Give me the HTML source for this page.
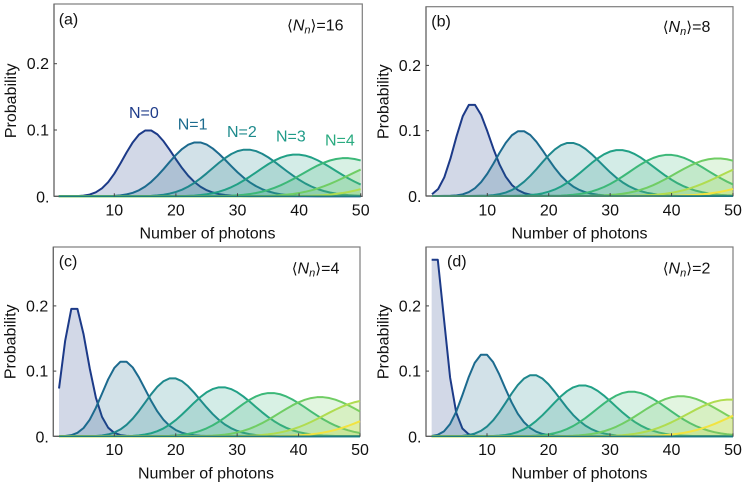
<!DOCTYPE html>
<html lang="en">
<head>
<meta charset="utf-8">
<title>Photon number probability distributions</title>
<style>
html,body{margin:0;padding:0;background:#fff;}
svg{display:block;}
text{font-family:"Liberation Sans","DejaVu Sans",sans-serif;font-size:16px;fill:#111;}
.ang{font-family:"DejaVu Sans","Liberation Sans",sans-serif;font-size:15px;}
.it{font-style:italic;}
</style>
</head>
<body>
<svg id="chart" xmlns="http://www.w3.org/2000/svg" width="744" height="486" viewBox="0 0 744 486">
  <rect x="0" y="0" width="744" height="486" fill="#fff"/>
  <g id="panel-a"></g>
  <g id="panel-b"></g>
  <g id="panel-c"></g>
  <g id="panel-d"></g>

  <text x="207.5" y="238.5" text-anchor="middle">Number of photons</text>
  <text x="579.5" y="238.5" text-anchor="middle">Number of photons</text>
  <text x="206" y="478.5" text-anchor="middle">Number of photons</text>
  <text x="579.5" y="478.5" text-anchor="middle">Number of photons</text>

  <text transform="translate(16,100.8) rotate(-90)" text-anchor="middle">Probability</text>
  <text transform="translate(388.5,101.7) rotate(-90)" text-anchor="middle">Probability</text>
  <text transform="translate(15.7,341.8) rotate(-90)" text-anchor="middle">Probability</text>
  <text transform="translate(388.5,341.8) rotate(-90)" text-anchor="middle">Probability</text>

  <text x="58.7" y="24.5">(a)</text>
  <text x="431.3" y="26.5">(b)</text>
  <text x="58.7" y="266.5">(c)</text>
  <text x="447" y="266.5">(d)</text>

  <text x="287" y="30.5"><tspan class="ang">⟨</tspan><tspan class="it">N</tspan><tspan class="it" style="font-size:11px" dy="3">n</tspan><tspan class="ang" dy="-3">⟩</tspan>=16</text>
  <text x="662.7" y="32"><tspan class="ang">⟨</tspan><tspan class="it">N</tspan><tspan class="it" style="font-size:11px" dy="3">n</tspan><tspan class="ang" dy="-3">⟩</tspan>=8</text>
  <text x="291.7" y="273.5"><tspan class="ang">⟨</tspan><tspan class="it">N</tspan><tspan class="it" style="font-size:11px" dy="3">n</tspan><tspan class="ang" dy="-3">⟩</tspan>=4</text>
  <text x="662.7" y="273.5"><tspan class="ang">⟨</tspan><tspan class="it">N</tspan><tspan class="it" style="font-size:11px" dy="3">n</tspan><tspan class="ang" dy="-3">⟩</tspan>=2</text>

  <text x="129" y="118" style="fill:#1f3c8a">N=0</text>
  <text x="177.7" y="129.5" style="fill:#1c6b8e">N=1</text>
  <text x="227" y="137" style="fill:#1d8a8c">N=2</text>
  <text x="276" y="141.5" style="fill:#1f9b88">N=3</text>
  <text x="325" y="145.5" style="fill:#2aab80">N=4</text>
</svg>
<script>
const photonCounts = [1,2,3,4,5,6,7,8,9,10, 11,12,13,14,15,16,17,18,19,20, 21,22,23,24,25,26,27,28,29,30, 31,32,33,34,35,36,37,38,39,40, 41,42,43,44,45,46,47,48,49,50];

const xTickValues = [10,20,30,40,50];
const yTickValues = [0.1,0.2];
const yTickLabels = ["0.1","0.2"];
const yZeroLabel = "0.";

const probA0 = [0,0,.0001,.0003,.0010,.0026,.0060,.0120,.0213,.0341, .0496,.0662,.0814,.0930,.0992,.0992,.0934,.0830,.0699,.0559, .0426,.0310,.0216,.0144,.0092,.0057,.0034,.0019,.0011,.0006, .0003,.0001,0,0,0,0,0,0,0,0, 0,0,0,0,0,0,0,0,0,0];
const probA1 = [0,0,0,0,0,0,0,.0001,.0003,.0006, .0014,.0029,.0053,.0091,.0146,.0219,.0309,.0411,.0520,.0624, .0713,.0778,.0812,.0812,.0780,.0720,.0640,.0549,.0454,.0363, .0281,.0211,.0153,.0108,.0074,.0049,.0032,.0020,.0012,.0007, .0004,.0002,.0001,0,0,0,0,0,0,0];
const probA2 = [0,0,0,0,0,0,0,0,0,0, 0,0,.0001,.0002,.0004,.0007,.0014,.0024,.0041,.0066, .0100,.0146,.0203,.0271,.0347,.0427,.0506,.0578,.0638,.0681, .0703,.0703,.0682,.0642,.0587,.0522,.0451,.0380,.0312,.0249, .0194,.0148,.0110,.0080,.0057,.0040,.0027,.0018,.0012,.0008];
const probA3 = [0,0,0,0,0,0,0,0,0,0, 0,0,0,0,0,0,0,0,.0001,.0002, .0003,.0006,.0011,.0019,.0031,.0047,.0070,.0100,.0138,.0184, .0238,.0297,.0360,.0424,.0485,.0539,.0582,.0613,.0629,.0629, .0614,.0585,.0544,.0495,.0440,.0382,.0325,.0271,.0221,.0177];
const probA4 = [0,0,0,0,0,0,0,0,0,0, 0,0,0,0,0,0,0,0,0,0, 0,0,0,0,.0001,.0002,.0003,.0006,.0009,.0015, .0023,.0034,.0050,.0070,.0096,.0128,.0166,.0210,.0258,.0310, .0363,.0415,.0464,.0506,.0540,.0563,.0575,.0575,.0563,.0541];
const probA5 = [0,0,0,0,0,0,0,0,0,0, 0,0,0,0,0,0,0,0,0,0, 0,0,0,0,0,0,0,0,0,0, .0001,.0002,.0003,.0005,.0007,.0011,.0017,.0025,.0035,.0049, .0068,.0090,.0118,.0150,.0186,.0227,.0270,.0315,.0360,.0403];
const probA6 = [0,0,0,0,0,0,0,0,0,0, 0,0,0,0,0,0,0,0,0,0, 0,0,0,0,0,0,0,0,0,0, 0,0,0,0,0,0,0,.0001,.0002,.0004, .0006,.0009,.0013,.0018,.0026,.0036,.0049,.0065,.0085,.0108];

const probB0 = [.0027,.0107,.0286,.0573,.0916,.1221,.1396,.1396,.1241,.0993, .0722,.0481,.0296,.0169,.0090,.0045,.0021,.0009,.0004,.0002, 0,0,0,0,0,0,0,0,0,0, 0,0,0,0,0,0,0,0,0,0, 0,0,0,0,0,0,0,0,0,0];
const probB1 = [0,0,.0001,.0003,.0010,.0026,.0060,.0120,.0213,.0341, .0496,.0662,.0814,.0930,.0992,.0992,.0934,.0830,.0699,.0559, .0426,.0310,.0216,.0144,.0092,.0057,.0034,.0019,.0011,.0006, .0003,.0001,0,0,0,0,0,0,0,0, 0,0,0,0,0,0,0,0,0,0];
const probB2 = [0,0,0,0,0,0,0,.0001,.0003,.0006, .0014,.0029,.0053,.0091,.0146,.0219,.0309,.0411,.0520,.0624, .0713,.0778,.0812,.0812,.0780,.0720,.0640,.0549,.0454,.0363, .0281,.0211,.0153,.0108,.0074,.0049,.0032,.0020,.0012,.0007, .0004,.0002,.0001,0,0,0,0,0,0,0];
const probB3 = [0,0,0,0,0,0,0,0,0,0, 0,0,.0001,.0002,.0004,.0007,.0014,.0024,.0041,.0066, .0100,.0146,.0203,.0271,.0347,.0427,.0506,.0578,.0638,.0681, .0703,.0703,.0682,.0642,.0587,.0522,.0451,.0380,.0312,.0249, .0194,.0148,.0110,.0080,.0057,.0040,.0027,.0018,.0012,.0008];
const probB4 = [0,0,0,0,0,0,0,0,0,0, 0,0,0,0,0,0,0,0,.0001,.0002, .0003,.0006,.0011,.0019,.0031,.0047,.0070,.0100,.0138,.0184, .0238,.0297,.0360,.0424,.0485,.0539,.0582,.0613,.0629,.0629, .0614,.0585,.0544,.0495,.0440,.0382,.0325,.0271,.0221,.0177];
const probB5 = [0,0,0,0,0,0,0,0,0,0, 0,0,0,0,0,0,0,0,0,0, 0,0,0,0,.0001,.0002,.0003,.0006,.0009,.0015, .0023,.0034,.0050,.0070,.0096,.0128,.0166,.0210,.0258,.0310, .0363,.0415,.0464,.0506,.0540,.0563,.0575,.0575,.0563,.0541];
const probB6 = [0,0,0,0,0,0,0,0,0,0, 0,0,0,0,0,0,0,0,0,0, 0,0,0,0,0,0,0,0,0,0, .0001,.0002,.0003,.0005,.0007,.0011,.0017,.0025,.0035,.0049, .0068,.0090,.0118,.0150,.0186,.0227,.0270,.0315,.0360,.0403];
const probB7 = [0,0,0,0,0,0,0,0,0,0, 0,0,0,0,0,0,0,0,0,0, 0,0,0,0,0,0,0,0,0,0, 0,0,0,0,0,0,0,.0001,.0002,.0004, .0006,.0009,.0013,.0018,.0026,.0036,.0049,.0065,.0085,.0108];

const probC0 = [.0733,.1465,.1954,.1954,.1563,.1042,.0595,.0298,.0132,.0053, .0019,.0006,.0002,0,0,0,0,0,0,0, 0,0,0,0,0,0,0,0,0,0, 0,0,0,0,0,0,0,0,0,0, 0,0,0,0,0,0,0,0,0,0];
const probC1 = [.0001,.0004,.0018,.0053,.0127,.0255,.0437,.0655,.0874,.1048, .1144,.1144,.1056,.0905,.0724,.0543,.0383,.0255,.0161,.0097, .0055,.0030,.0016,.0008,.0004,.0002,0,0,0,0, 0,0,0,0,0,0,0,0,0,0, 0,0,0,0,0,0,0,0,0,0];
const probC2 = [0,0,0,0,.0001,.0002,.0005,.0013,.0029,.0058, .0106,.0176,.0271,.0387,.0516,.0646,.0760,.0844,.0888,.0888, .0846,.0769,.0669,.0557,.0446,.0343,.0254,.0181,.0125,.0083, .0054,.0034,.0020,.0012,.0007,.0004,.0002,.0001,0,0, 0,0,0,0,0,0,0,0,0,0];
const probC3 = [0,0,0,0,0,0,0,0,0,0, .0002,.0003,.0007,.0015,.0027,.0047,.0078,.0121,.0178,.0249, .0332,.0423,.0515,.0601,.0673,.0724,.0751,.0751,.0725,.0677, .0611,.0535,.0454,.0374,.0299,.0233,.0176,.0130,.0093,.0065, .0045,.0030,.0019,.0012,.0008,.0005,.0003,.0002,.0001,0];
const probC4 = [0,0,0,0,0,0,0,0,0,0, 0,0,0,0,0,.0001,.0002,.0004,.0007,.0013, .0022,.0036,.0056,.0084,.0121,.0167,.0223,.0287,.0356,.0427, .0496,.0558,.0609,.0645,.0663,.0663,.0645,.0611,.0564,.0508, .0446,.0382,.0320,.0262,.0209,.0164,.0125,.0094,.0069,.0050];
const probC5 = [0,0,0,0,0,0,0,0,0,0, 0,0,0,0,0,0,0,0,0,0, 0,.0001,.0002,.0003,.0006,.0010,.0017,.0026,.0040,.0059, .0084,.0115,.0154,.0199,.0250,.0306,.0364,.0421,.0475,.0522, .0560,.0586,.0600,.0600,.0587,.0561,.0525,.0481,.0432,.0380];
const probC6 = [0,0,0,0,0,0,0,0,0,0, 0,0,0,0,0,0,0,0,0,0, 0,0,0,0,0,0,0,.0001,.0002,.0003, .0005,.0008,.0013,.0020,.0029,.0042,.0059,.0080,.0107,.0139, .0177,.0219,.0265,.0313,.0362,.0409,.0452,.0490,.0520,.0541];
const probC7 = [0,0,0,0,0,0,0,0,0,0, 0,0,0,0,0,0,0,0,0,0, 0,0,0,0,0,0,0,0,0,0, 0,0,0,0,.0001,.0002,.0004,.0006,.0010,.0014, .0021,.0030,.0042,.0057,.0076,.0099,.0126,.0158,.0193,.0232];

const probD0 = [.2707,.2707,.1804,.0902,.0361,.0120,.0034,.0009,.0002,0, 0,0,0,0,0,0,0,0,0,0, 0,0,0,0,0,0,0,0,0,0, 0,0,0,0,0,0,0,0,0,0, 0,0,0,0,0,0,0,0,0,0];
const probD1 = [.0005,.0023,.0076,.0189,.0378,.0631,.0901,.1126,.1251,.1251, .1137,.0948,.0729,.0521,.0347,.0217,.0128,.0071,.0037,.0019, .0009,.0004,.0002,0,0,0,0,0,0,0, 0,0,0,0,0,0,0,0,0,0, 0,0,0,0,0,0,0,0,0,0];
const probD2 = [0,0,0,.0001,.0002,.0007,.0019,.0042,.0083,.0150, .0245,.0368,.0509,.0655,.0786,.0884,.0936,.0936,.0887,.0798, .0684,.0560,.0438,.0328,.0237,.0164,.0109,.0070,.0044,.0026, .0015,.0009,.0005,.0002,.0001,0,0,0,0,0, 0,0,0,0,0,0,0,0,0,0];
const probD3 = [0,0,0,0,0,0,0,0,.0001,.0002, .0005,.0010,.0020,.0038,.0066,.0107,.0163,.0236,.0322,.0418, .0518,.0612,.0692,.0750,.0780,.0780,.0751,.0697,.0625,.0542, .0454,.0369,.0291,.0222,.0165,.0119,.0084,.0057,.0038,.0025, .0016,.0010,.0006,.0003,.0002,.0001,0,0,0,0];
const probD4 = [0,0,0,0,0,0,0,0,0,0, 0,0,0,0,.0001,.0003,.0005,.0010,.0018,.0030, .0049,.0075,.0111,.0157,.0214,.0280,.0353,.0428,.0502,.0569, .0624,.0663,.0683,.0683,.0663,.0626,.0575,.0515,.0449,.0381, .0316,.0256,.0202,.0156,.0118,.0087,.0063,.0045,.0031,.0021];
const probD5 = [0,0,0,0,0,0,0,0,0,0, 0,0,0,0,0,0,0,0,0,0, .0001,.0003,.0005,.0008,.0014,.0023,.0036,.0053,.0077,.0108, .0146,.0192,.0244,.0302,.0362,.0423,.0480,.0530,.0571,.0600, .0614,.0614,.0600,.0573,.0535,.0488,.0436,.0382,.0327,.0275];
const probD6 = [0,0,0,0,0,0,0,0,0,0, 0,0,0,0,0,0,0,0,0,0, 0,0,0,0,0,0,.0001,.0002,.0004,.0007, .0011,.0017,.0026,.0038,.0054,.0075,.0102,.0134,.0172,.0215, .0262,.0312,.0362,.0412,.0458,.0498,.0530,.0552,.0563,.0563];
const probD7 = [0,0,0,0,0,0,0,0,0,0, 0,0,0,0,0,0,0,0,0,0, 0,0,0,0,0,0,0,0,0,0, 0,0,.0001,.0002,.0003,.0005,.0008,.0013,.0019,.0027, .0039,.0053,.0072,.0095,.0122,.0154,.0190,.0230,.0272,.0316];

const seriesColors = ["#1c3a88","#1c6a8e","#1e878c","#21a086","#3cb878","#70cd64","#b0dc50","#f2e340"];

const panelA = [probA0,probA1,probA2,probA3,probA4,probA5,probA6];
const panelB = [probB0,probB1,probB2,probB3,probB4,probB5,probB6,probB7];
const panelC = [probC0,probC1,probC2,probC3,probC4,probC5,probC6,probC7];
const panelD = [probD0,probD1,probD2,probD3,probD4,probD5,probD6,probD7];

const SVGNS = "http://www.w3.org/2000/svg";

function drawPanel(id, series, g) {
  const root = document.getElementById("panel-" + id);
  const xScale = function (v) { return g.x10 + (v - 10) * (g.x50 - g.x10) / 40; };
  const yScale = function (v) { return g.y0 - v * 1000 * g.perMille; };

  const bg = document.createElementNS(SVGNS, "rect");
  
  
  bg.setAttribute("x", g.left);
  bg.setAttribute("y", g.top);
  bg.setAttribute("width", g.right - g.left);
  bg.setAttribute("height", g.y0 - g.top);
  bg.setAttribute("fill", "#fff");
  bg.setAttribute("stroke", "#7d7d7d");
  bg.setAttribute("stroke-width", "1.2");
  root.appendChild(bg);

  series.forEach(function (values, si) {
    const color = seriesColors[si];
    let line = "";
    values.forEach(function (v, i) {
      line += (i ? "L" : "M") + xScale(photonCounts[i]).toFixed(2) + " " + yScale(v).toFixed(2);
    });
    const lastIdx = values.length - 1;
    const area = line + "L" + xScale(photonCounts[lastIdx]).toFixed(2) + " " + g.y0 + "L" + xScale(photonCounts[0]).toFixed(2) + " " + g.y0 + "Z";

    const fill = document.createElementNS(SVGNS, "path");
    
    
    fill.setAttribute("d", area);
    fill.setAttribute("fill", color);
    fill.setAttribute("fill-opacity", "0.2");
    root.appendChild(fill);

    const stroke = document.createElementNS(SVGNS, "path");
    
    
    stroke.setAttribute("d", line);
    stroke.setAttribute("fill", "none");
    stroke.setAttribute("stroke", color);
    stroke.setAttribute("stroke-width", "2");
    stroke.setAttribute("stroke-linejoin", "round");
    root.appendChild(stroke);
  });

  const leftAxis = document.createElementNS(SVGNS, "line");
  
  
  leftAxis.setAttribute("x1", g.left);
  leftAxis.setAttribute("x2", g.left);
  leftAxis.setAttribute("y1", g.top);
  leftAxis.setAttribute("y2", g.y0);
  leftAxis.setAttribute("stroke", "#666");
  leftAxis.setAttribute("stroke-width", "1.2");
  root.appendChild(leftAxis);

  const bottomAxis = document.createElementNS(SVGNS, "line");
  
  
  bottomAxis.setAttribute("x1", g.left);
  bottomAxis.setAttribute("x2", g.right);
  bottomAxis.setAttribute("y1", g.y0);
  bottomAxis.setAttribute("y2", g.y0);
  bottomAxis.setAttribute("stroke", "#555");
  bottomAxis.setAttribute("stroke-width", "1.2");
  root.appendChild(bottomAxis);

  const floor = document.createElementNS(SVGNS, "line");
  
  
  floor.setAttribute("x1", xScale(photonCounts[0]));
  floor.setAttribute("x2", xScale(photonCounts[photonCounts.length - 1]));
  floor.setAttribute("y1", g.y0);
  floor.setAttribute("y2", g.y0);
  floor.setAttribute("stroke", "#1c7b80");
  floor.setAttribute("stroke-width", "1.5");
  root.appendChild(floor);

  xTickValues.forEach(function (v) {
    const tick = document.createElementNS(SVGNS, "line");
    
    
    tick.setAttribute("x1", xScale(v));
    tick.setAttribute("x2", xScale(v));
    tick.setAttribute("y1", g.y0);
    tick.setAttribute("y2", g.y0 - 3);
    tick.setAttribute("stroke", "#444");
    tick.setAttribute("stroke-width", "1");
    root.appendChild(tick);

    const label = document.createElementNS(SVGNS, "text");
    
    
    label.setAttribute("x", xScale(v));
    label.setAttribute("y", g.xLabelY);
    label.setAttribute("text-anchor", "middle");
    label.textContent = String(v);
    root.appendChild(label);
  });

  yTickValues.forEach(function (v, i) {
    const tick = document.createElementNS(SVGNS, "line");
    
    
    tick.setAttribute("x1", g.left);
    tick.setAttribute("x2", g.left + 3);
    tick.setAttribute("y1", yScale(v));
    tick.setAttribute("y2", yScale(v));
    tick.setAttribute("stroke", "#444");
    tick.setAttribute("stroke-width", "1");
    root.appendChild(tick);

    const label = document.createElementNS(SVGNS, "text");
    
    
    label.setAttribute("x", g.left - 5);
    label.setAttribute("y", yScale(v) + 5.5);
    label.setAttribute("text-anchor", "end");
    label.textContent = yTickLabels[i];
    root.appendChild(label);
  });

  const zero = document.createElementNS(SVGNS, "text");
  
  
  zero.setAttribute("x", g.left - 4.5);
  zero.setAttribute("y", g.y0 + 6);
  zero.setAttribute("text-anchor", "end");
  zero.textContent = yZeroLabel;
  root.appendChild(zero);
}

drawPanel("a", panelA, {left:54,right:362.3,top:4,y0:196.3,x10:114.3,x50:360.7,perMille:0.663,xLabelY:215.5});
drawPanel("b", panelB, {left:426,right:733,top:6.7,y0:196,x10:487.3,x50:733,perMille:0.653,xLabelY:215.5});
drawPanel("c", panelC, {left:53.3,right:360,top:247,y0:436.3,x10:114.3,x50:360,perMille:0.652,xLabelY:455});
drawPanel("d", panelD, {left:426,right:733,top:247,y0:436.3,x10:487,x50:733,perMille:0.652,xLabelY:455});
</script>
</body>
</html>
